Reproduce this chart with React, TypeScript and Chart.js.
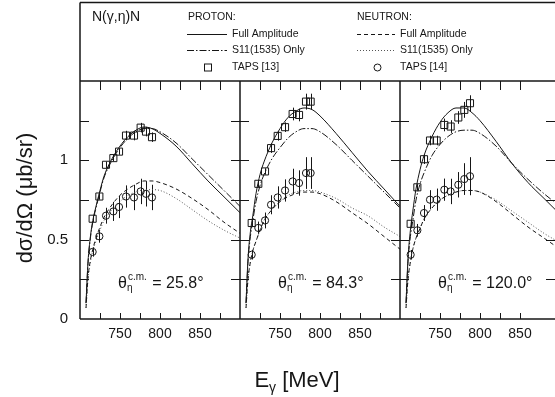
import React, { useEffect, useRef } from 'react';
import { Chart, registerables } from 'chart.js';

Chart.register(...registerables);

const FONT = '"Liberation Sans", Arial, Helvetica, sans-serif';
const INK = '#161616';

// ---------------- data ----------------
const angleLabels = ['25.8°', '84.3°', '120.0°'];
const xTickLabels = [750, 800, 850];
const yTickLabels = [0, 0.5, 1];

const curveEnergy = [707.5, 710, 713, 716, 720, 725, 730, 740, 750, 760, 770, 780, 790, 800, 820, 840, 860, 880, 900];

// theta = 25.8 deg
const protonFull_25 = [0.10, 0.36, 0.52, 0.62, 0.71, 0.81, 0.90, 1.01, 1.09, 1.15, 1.19, 1.21, 1.20, 1.17, 1.09, 0.98, 0.87, 0.77, 0.67];
const protonS11_25 = [0.10, 0.35, 0.51, 0.61, 0.70, 0.80, 0.89, 1.00, 1.08, 1.14, 1.18, 1.20, 1.20, 1.18, 1.11, 1.01, 0.91, 0.81, 0.71];
const neutronFull_25 = [0.07, 0.26, 0.37, 0.44, 0.51, 0.58, 0.64, 0.72, 0.78, 0.82, 0.85, 0.87, 0.87, 0.86, 0.82, 0.76, 0.69, 0.61, 0.54];
const neutronS11_25 = [0.07, 0.25, 0.36, 0.43, 0.49, 0.56, 0.62, 0.69, 0.74, 0.78, 0.80, 0.815, 0.815, 0.81, 0.76, 0.69, 0.62, 0.56, 0.51];
const tapsE_25 = [715.8, 724.2, 732.5, 741.7, 748.8, 757.5, 767.5, 775.8, 782.5, 790];
const tapsProton_25 = [0.632, 0.772, 0.972, 1.014, 1.055, 1.156, 1.156, 1.206, 1.181, 1.146];
const tapsProtonErr_25 = [0.02, 0.02, 0.02, 0.02, 0.02, 0.03, 0.03, 0.03, 0.03, 0.03];
const tapsNeutron_25 = [0.423, 0.521, 0.651, 0.678, 0.706, 0.772, 0.766, 0.804, 0.789, 0.766];
const tapsNeutronErr_25 = [0.03, 0.04, 0.05, 0.06, 0.07, 0.07, 0.08, 0.08, 0.08, 0.08];

// theta = 84.3 deg
const protonFull_84 = [0.10, 0.38, 0.55, 0.65, 0.79, 0.91, 0.99, 1.11, 1.20, 1.27, 1.31, 1.33, 1.32, 1.28, 1.17, 1.05, 0.93, 0.82, 0.71];
const protonS11_84 = [0.10, 0.36, 0.52, 0.62, 0.74, 0.84, 0.91, 1.01, 1.08, 1.14, 1.18, 1.20, 1.20, 1.18, 1.10, 1.00, 0.90, 0.80, 0.70];
const neutronFull_84 = [0.07, 0.25, 0.36, 0.43, 0.49, 0.56, 0.62, 0.69, 0.74, 0.77, 0.79, 0.80, 0.80, 0.79, 0.74, 0.67, 0.60, 0.52, 0.44];
const neutronS11_84 = [0.07, 0.25, 0.36, 0.43, 0.49, 0.56, 0.62, 0.69, 0.74, 0.78, 0.80, 0.81, 0.81, 0.80, 0.76, 0.70, 0.65, 0.58, 0.52];
const tapsE_84 = [714.6, 722.9, 731.3, 738.8, 747.1, 756.3, 765.8, 773.8, 782.5, 788.3];
const tapsProton_84 = [0.605, 0.852, 0.93, 1.077, 1.154, 1.209, 1.292, 1.286, 1.37, 1.37];
const tapsProtonErr_84 = [0.02, 0.02, 0.02, 0.03, 0.03, 0.03, 0.04, 0.04, 0.05, 0.05];
const tapsNeutron_84 = [0.405, 0.574, 0.621, 0.72, 0.766, 0.81, 0.867, 0.857, 0.92, 0.92];
const tapsNeutronErr_84 = [0.03, 0.04, 0.05, 0.06, 0.07, 0.07, 0.08, 0.08, 0.10, 0.10];

// theta = 120.0 deg
const protonFull_120 = [0.10, 0.38, 0.56, 0.68, 0.82, 0.94, 1.03, 1.15, 1.24, 1.30, 1.33, 1.33, 1.30, 1.25, 1.12, 0.98, 0.86, 0.76, 0.66];
const protonS11_120 = [0.10, 0.36, 0.52, 0.62, 0.75, 0.85, 0.92, 1.03, 1.10, 1.15, 1.18, 1.19, 1.19, 1.17, 1.09, 0.98, 0.88, 0.79, 0.71];
const neutronFull_120 = [0.07, 0.25, 0.36, 0.44, 0.51, 0.57, 0.63, 0.70, 0.75, 0.78, 0.80, 0.81, 0.81, 0.80, 0.74, 0.66, 0.58, 0.51, 0.44];
const neutronS11_120 = [0.07, 0.25, 0.36, 0.44, 0.51, 0.57, 0.63, 0.70, 0.75, 0.78, 0.80, 0.81, 0.81, 0.80, 0.75, 0.68, 0.61, 0.54, 0.48];
const tapsE_120 = [713.3, 721.7, 730, 737.5, 745.8, 755.4, 763.3, 772.9, 780.4, 787.5];
const tapsProton_120 = [0.60, 0.83, 1.007, 1.125, 1.125, 1.223, 1.213, 1.27, 1.318, 1.36];
const tapsProtonErr_120 = [0.02, 0.02, 0.03, 0.03, 0.03, 0.04, 0.04, 0.04, 0.05, 0.05];
const tapsNeutron_120 = [0.405, 0.559, 0.668, 0.752, 0.752, 0.815, 0.804, 0.846, 0.882, 0.90];
const tapsNeutronErr_120 = [0.03, 0.04, 0.05, 0.06, 0.07, 0.07, 0.08, 0.08, 0.10, 0.12];

// ---------------- layout ----------------
const W = 555;
const H = 397;
const PANEL_PX = 160;
const LAST_PANEL_PX = 155; // right panel is cut by the picture edge
const E_MIN = 700;
const E_MAX = 900;

const panels = [
  { axis: 'x1', pf: protonFull_25, ps: protonS11_25, nf: neutronFull_25, ns: neutronS11_25, e: tapsE_25, p: tapsProton_25, pe: tapsProtonErr_25, n: tapsNeutron_25, ne: tapsNeutronErr_25 },
  { axis: 'x2', pf: protonFull_84, ps: protonS11_84, nf: neutronFull_84, ns: neutronS11_84, e: tapsE_84, p: tapsProton_84, pe: tapsProtonErr_84, n: tapsNeutron_84, ne: tapsNeutronErr_84 },
  { axis: 'x3', pf: protonFull_120, ps: protonS11_120, nf: neutronFull_120, ns: neutronS11_120, e: tapsE_120, p: tapsProton_120, pe: tapsProtonErr_120, n: tapsNeutron_120, ne: tapsNeutronErr_120 },
];

const DASH_DOT = [7, 2, 1.5, 2];
const DASHED = [4, 3];
const DOTTED = [1, 2];

function curve(axis: string, ys: number[], dash: number[], color: string) {
  return {
    xAxisID: axis,
    yAxisID: 'y',
    data: curveEnergy.map((x, i) => ({ x, y: ys[i] })),
    showLine: true,
    borderColor: color,
    borderWidth: 1,
    borderDash: dash,
    pointRadius: 0,
    cubicInterpolationMode: 'monotone',
    fill: false,
  };
}

function points(axis: string, es: number[], vs: number[], errs: number[], style: string, radius: number) {
  return {
    xAxisID: axis,
    yAxisID: 'y',
    data: es.map((x, i) => ({ x, y: vs[i] })),
    errors: errs,
    showLine: false,
    pointStyle: style,
    pointRadius: radius,
    pointBorderWidth: 1,
    pointBorderColor: INK,
    pointBackgroundColor: 'rgba(0,0,0,0)',
  };
}

function line(ctx: CanvasRenderingContext2D, x1: number, y1: number, x2: number, y2: number) {
  ctx.beginPath();
  ctx.moveTo(x1, y1);
  ctx.lineTo(x2, y2);
  ctx.stroke();
}

const decorPlugin = {
  id: 'decor',
  beforeDatasetsDraw(chart: any) {
    const ctx = chart.ctx as CanvasRenderingContext2D;
    const ys = chart.scales.y;
    ctx.save();
    ctx.strokeStyle = INK;
    ctx.lineWidth = 1;
    chart.data.datasets.forEach((ds: any) => {
      if (!ds.errors) return;
      const xs = chart.scales[ds.xAxisID];
      ds.data.forEach((p: any, j: number) => {
        const x = Math.round(xs.getPixelForValue(p.x)) + 0.5;
        line(ctx, x, ys.getPixelForValue(p.y - ds.errors[j]), x, ys.getPixelForValue(p.y + ds.errors[j]));
      });
    });
    ctx.restore();
  },
  afterDraw(chart: any) {
    const ctx = chart.ctx as CanvasRenderingContext2D;
    const { left, right, top, bottom } = chart.chartArea;
    const ys = chart.scales.y;
    const xsc = panels.map((p) => chart.scales[p.axis]);
    ctx.save();
    ctx.strokeStyle = INK;
    ctx.fillStyle = INK;
    ctx.setLineDash([]);

    // frames
    ctx.lineWidth = 1.5;
    line(ctx, left, 2.5, right, 2.5);
    line(ctx, left, 2.5, left, top);
    line(ctx, left, top, right, top);
    line(ctx, left, bottom, right, bottom);
    line(ctx, left, top, left, bottom);
    line(ctx, xsc[0].right, top, xsc[0].right, bottom);
    line(ctx, xsc[1].right, top, xsc[1].right, bottom);

    // inward tick marks
    ctx.lineWidth = 1;
    xsc.forEach((s: any) => {
      s.ticks.forEach((t: any) => {
        if (t.value <= s.min || t.value >= s.max || t.value % 25 !== 0) return;
        const x = Math.round(s.getPixelForValue(t.value)) + 0.5;
        line(ctx, x, bottom, x, bottom - 6);
        line(ctx, x, top, x, top + 9);
      });
    });
    const edges = [left, xsc[0].right, xsc[1].right, right];
    ys.ticks.forEach((t: any) => {
      if (t.value <= ys.min || t.value >= ys.max) return;
      const y = Math.round(ys.getPixelForValue(t.value)) + 0.5;
      edges.forEach((ex, k) => {
        if (k > 0) line(ctx, ex - 9, y, ex, y);
        if (k < edges.length - 1) line(ctx, ex, y, ex + 9, y);
      });
    });

    // axis titles
    ctx.textBaseline = 'middle';
    ctx.textAlign = 'center';
    ctx.save();
    ctx.translate(26, 198);
    ctx.rotate(-Math.PI / 2);
    ctx.font = `22px ${FONT}`;
    ctx.fillText('dσ/dΩ (μb/sr)', 0, 0);
    ctx.restore();

    ctx.textAlign = 'left';
    ctx.textBaseline = 'alphabetic';
    const big = `22px ${FONT}`;
    const sub = `14px ${FONT}`;
    ctx.font = big;
    const wE = ctx.measureText('E').width;
    const wRest = ctx.measureText(' [MeV]').width;
    ctx.font = sub;
    const wG = ctx.measureText('γ').width;
    const tx = (left + xsc[1].right) / 2 + 57 - (wE + wG + wRest) / 2;
    const ty = 387;
    ctx.font = big;
    ctx.fillText('E', tx, ty);
    ctx.font = sub;
    ctx.fillText('γ', tx + wE, ty + 5);
    ctx.font = big;
    ctx.fillText(' [MeV]', tx + wE + wG, ty);

    // angle labels
    xsc.forEach((s: any, i: number) => {
      let x = s.left + 38;
      const y = 288;
      ctx.font = `16px ${FONT}`;
      ctx.fillText('θ', x, y);
      x += ctx.measureText('θ').width;
      ctx.font = `10px ${FONT}`;
      ctx.fillText('η', x, y + 3);
      ctx.fillText('c.m.', x + 1, y - 8);
      x += ctx.measureText('c.m.').width + 2;
      ctx.font = `16px ${FONT}`;
      ctx.fillText(' = ' + angleLabels[i], x, y);
    });

    // legend
    ctx.textBaseline = 'middle';
    ctx.font = `14px ${FONT}`;
    ctx.fillText('N(γ,η)N', 92, 17);
    ctx.font = `10.5px ${FONT}`;
    ctx.fillText('PROTON:', 188, 17);
    ctx.fillText('NEUTRON:', 357, 17);
    const rows = [34, 50, 67];
    ctx.fillText('Full Amplitude', 232, rows[0]);
    ctx.fillText('S11(1535) Only', 232, rows[1]);
    ctx.fillText('TAPS [13]', 232, rows[2]);
    ctx.fillText('Full Amplitude', 400, rows[0]);
    ctx.fillText('S11(1535) Only', 400, rows[1]);
    ctx.fillText('TAPS [14]', 400, rows[2]);

    ctx.lineWidth = 1;
    ctx.setLineDash([]);
    line(ctx, 187, rows[0] + 0.5, 227, rows[0] + 0.5);
    ctx.setLineDash(DASH_DOT);
    line(ctx, 187, rows[1] + 0.5, 227, rows[1] + 0.5);
    ctx.setLineDash(DASHED);
    line(ctx, 357, rows[0] + 0.5, 395, rows[0] + 0.5);
    ctx.strokeStyle = '#555';
    ctx.setLineDash(DOTTED);
    line(ctx, 357, rows[1] + 0.5, 395, rows[1] + 0.5);
    ctx.strokeStyle = INK;
    ctx.setLineDash([]);
    ctx.strokeRect(204.5, rows[2] - 3, 7, 7);
    ctx.beginPath();
    ctx.arc(377.5, rows[2] + 0.5, 3.5, 0, Math.PI * 2);
    ctx.stroke();

    ctx.restore();
  },
};

function makeConfig(): any {
  const datasets: any[] = [];
  panels.forEach((p) => {
    datasets.push(points(p.axis, p.e, p.p, p.pe, 'rect', 5));
    datasets.push(points(p.axis, p.e, p.n, p.ne, 'circle', 3.6));
    datasets.push(curve(p.axis, p.pf, [], INK));
    datasets.push(curve(p.axis, p.ps, DASH_DOT, INK));
    datasets.push(curve(p.axis, p.nf, DASHED, INK));
    datasets.push(curve(p.axis, p.ns, DOTTED, '#555'));
  });

  const xAxis = (i: number) => ({
    type: 'linear',
    position: 'bottom',
    stack: 'panels',
    stackWeight: i === 2 ? LAST_PANEL_PX : PANEL_PX,
    min: E_MIN,
    max: i === 2 ? E_MIN + ((E_MAX - E_MIN) * LAST_PANEL_PX) / PANEL_PX : E_MAX,
    grid: { display: false, drawTicks: false },
    border: { display: false },
    ticks: {
      stepSize: 25,
      autoSkip: false,
      maxRotation: 0,
      minRotation: 0,
      padding: 7,
      color: INK,
      font: { family: FONT, size: 14 },
      callback: (v: number) => (xTickLabels.includes(v) ? String(v) : ''),
    },
    afterFit: (s: any) => {
      s.height = H - 319;
      s.paddingLeft = 0;
      s.paddingRight = 0;
    },
  });

  return {
    type: 'scatter',
    data: { datasets },
    options: {
      animation: false,
      responsive: false,
      maintainAspectRatio: false,
      devicePixelRatio: 1,
      layout: { autoPadding: false, padding: { top: 81, left: 0, right: 0, bottom: 0 } },
      plugins: { legend: { display: false }, tooltip: { enabled: false } },
      events: [],
      scales: {
        x1: xAxis(0),
        x2: xAxis(1),
        x3: xAxis(2),
        y: {
          type: 'linear',
          position: 'left',
          min: 0,
          max: 1.5,
          grid: { display: false, drawTicks: false },
          border: { display: false },
          ticks: {
            stepSize: 0.25,
            padding: 12,
            color: INK,
            font: { family: FONT, size: 15 },
            callback: (v: number) => (yTickLabels.includes(v) ? String(v) : ''),
          },
          afterFit: (s: any) => {
            s.width = 80;
            s.paddingTop = 0;
            s.paddingBottom = 0;
          },
        },
      },
    },
    plugins: [decorPlugin],
  };
}

export default function App() {
  const ref = useRef<HTMLCanvasElement>(null);
  useEffect(() => {
    const chart = new Chart(ref.current as HTMLCanvasElement, makeConfig());
    return () => chart.destroy();
  }, []);
  return (
    <div style={{ position: 'absolute', left: 0, top: 0, width: W, height: H, background: '#fff', overflow: 'hidden' }}>
      <canvas ref={ref} width={W} height={H} style={{ display: 'block', width: W, height: H }} />
    </div>
  );
}
